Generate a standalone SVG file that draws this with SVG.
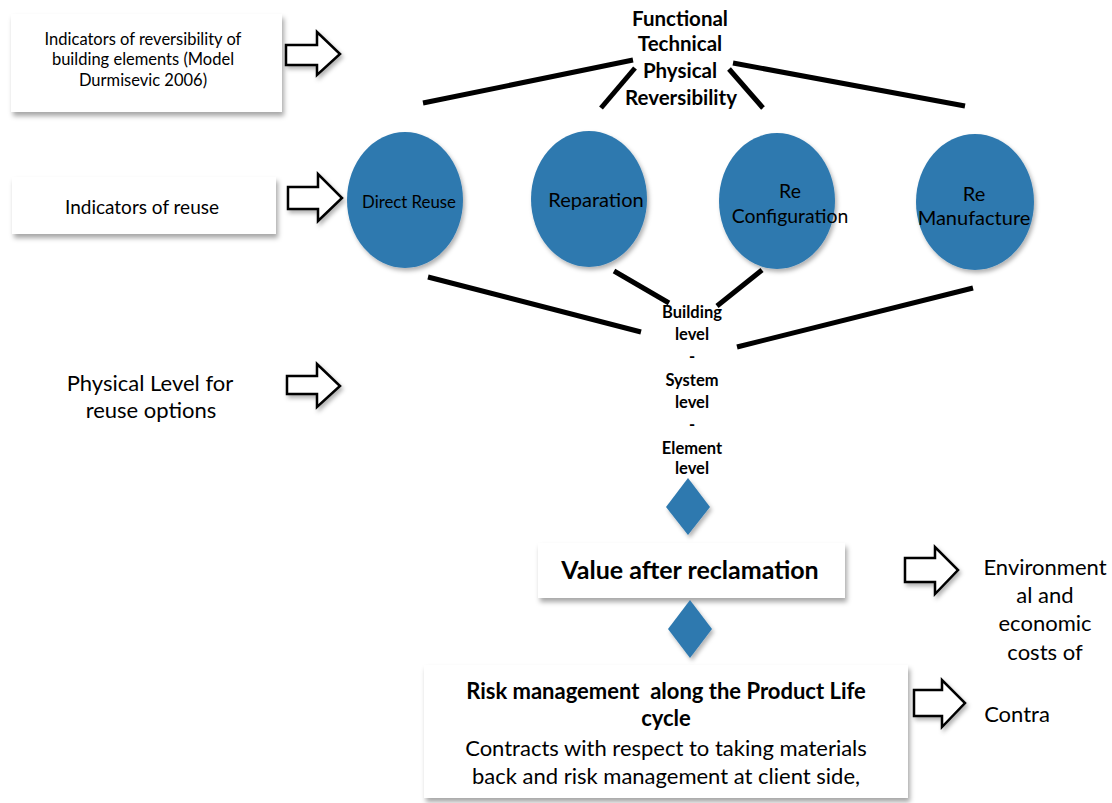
<svg xmlns="http://www.w3.org/2000/svg" width="1112" height="803" viewBox="0 0 1112 803">
<defs>
<filter id="sh" x="-10%" y="-20%" width="125%" height="150%">
<feDropShadow dx="2" dy="4" stdDeviation="2.5" flood-color="#000" flood-opacity="0.35"/>
</filter>
<filter id="sh2" x="-20%" y="-20%" width="150%" height="150%">
<feDropShadow dx="2" dy="3" stdDeviation="2" flood-color="#000" flood-opacity="0.3"/>
</filter>
</defs>
<style>
text{font-family:Lato,"Liberation Sans",sans-serif;fill:#000;text-anchor:middle}
.b{font-weight:bold}
.box{fill:#fff;filter:url(#sh)}
.arr{fill:#fff;stroke:#000;stroke-width:2.5;stroke-linejoin:miter;filter:url(#sh2)}
.blob{fill:#2F79AF;filter:url(#sh2)}
.ln{stroke:#000;stroke-width:5;fill:none}
</style>
<rect width="1112" height="803" fill="#fff"/>

<g id="connectors">
<line class="ln" x1="423" y1="103" x2="633" y2="60"/>
<line class="ln" x1="601" y1="108" x2="635" y2="68"/>
<line class="ln" x1="729" y1="69" x2="763" y2="108"/>
<line class="ln" x1="733" y1="63" x2="965" y2="106"/>
<line class="ln" x1="428" y1="277" x2="641" y2="332"/>
<line class="ln" x1="614" y1="271" x2="669" y2="303"/>
<line class="ln" x1="762" y1="270" x2="717" y2="306"/>
<line class="ln" x1="973" y1="288" x2="737" y2="347"/>
</g>

<g id="box-reversibility">
<rect class="box" x="11" y="14" width="271" height="98"/>
<text x="143" y="45" font-size="16.5">Indicators of reversibility of</text>
<text x="143" y="65" font-size="16.5">building elements (Model</text>
<text x="143" y="86" font-size="16.5">Durmisevic 2006)</text>
</g>
<g id="arrow-1"><path class="arr" d="M286,45 H317 V32 L340,54 L317,75 V65 H286 Z"/></g>

<g id="box-reuse">
<rect class="box" x="12" y="177" width="264" height="57"/>
<text x="142" y="214" font-size="19">Indicators of reuse</text>
</g>
<g id="arrow-2"><path class="arr" d="M288,187 H318 V174 L342,198 L318,221 V209 H288 Z"/></g>

<g id="physical-level">
<text x="150" y="391" font-size="22">Physical Level for</text>
<text x="151" y="418" font-size="22">reuse options</text>
</g>
<g id="arrow-3"><path class="arr" d="M287,376 H317 V364 L340,386 L317,407 V394 H287 Z"/></g>

<g id="top-label">
<text class="b" x="680" y="26" font-size="20.5">Functional</text>
<text class="b" x="680" y="51" font-size="20.5">Technical</text>
<text class="b" x="680" y="78" font-size="20.5">Physical</text>
<text class="b" x="681" y="105" font-size="20.5">Reversibility</text>
</g>

<g id="direct-reuse">
<ellipse class="blob" cx="405" cy="200" rx="58" ry="68"/>
<text x="409" y="208" font-size="16.8">Direct Reuse</text>
</g>
<g id="reparation">
<ellipse class="blob" cx="589" cy="199" rx="58" ry="68"/>
<text x="596" y="207" font-size="20">Reparation</text>
</g>
<g id="reconfiguration">
<ellipse class="blob" cx="777" cy="201" rx="58" ry="68"/>
<text x="790" y="198" font-size="19.4">Re</text>
<text x="790" y="223" font-size="19.4">Configuration</text>
</g>
<g id="remanufacture">
<ellipse class="blob" cx="975" cy="202" rx="59" ry="68"/>
<text x="974" y="201" font-size="20">Re</text>
<text x="974" y="225" font-size="20">Manufacture</text>
</g>

<g id="levels">
<text class="b" x="692" y="318" font-size="16.5">Building</text>
<text class="b" x="692" y="340" font-size="16.5">level</text>
<text class="b" x="692" y="362" font-size="16.5">-</text>
<text class="b" x="692" y="386" font-size="16.5">System</text>
<text class="b" x="692" y="408" font-size="16.5">level</text>
<text class="b" x="692" y="430" font-size="16.5">-</text>
<text class="b" x="692" y="454" font-size="16.5">Element</text>
<text class="b" x="692" y="474" font-size="16.5">level</text>
</g>

<g id="diamond-1"><path class="blob" d="M688,478 L710,507 L688,535 L666,507 Z"/></g>

<g id="value-box">
<rect class="box" x="538" y="543" width="307" height="55"/>
<text class="b" x="690" y="579" font-size="25">Value after reclamation</text>
</g>
<g id="arrow-4"><path class="arr" d="M905,558 H935 V547 L958,570 L935,594 V582 H905 Z"/></g>
<g id="costs">
<text x="1045" y="575" font-size="22">Environment</text>
<text x="1045" y="603" font-size="22">al and</text>
<text x="1045" y="631" font-size="22">economic</text>
<text x="1045" y="660" font-size="22">costs of</text>
</g>

<g id="diamond-2"><path class="blob" d="M690,600 L712,629 L690,658 L668,629 Z"/></g>

<g id="risk-box">
<rect class="box" x="424" y="665" width="484" height="133"/>
<text class="b" x="666" y="699" font-size="22" xml:space="preserve">Risk management  along the Product Life</text>
<text class="b" x="666" y="726" font-size="22">cycle</text>
<text x="666" y="756" font-size="22">Contracts with respect to taking materials</text>
<text x="666" y="784" font-size="22">back and risk management at client side,</text>
</g>
<g id="arrow-5"><path class="arr" d="M914,690 H942 V680 L965,703 L942,727 V716 H914 Z"/></g>
<g id="contra">
<text x="1017" y="722" font-size="22">Contra</text>
</g>
</svg>
